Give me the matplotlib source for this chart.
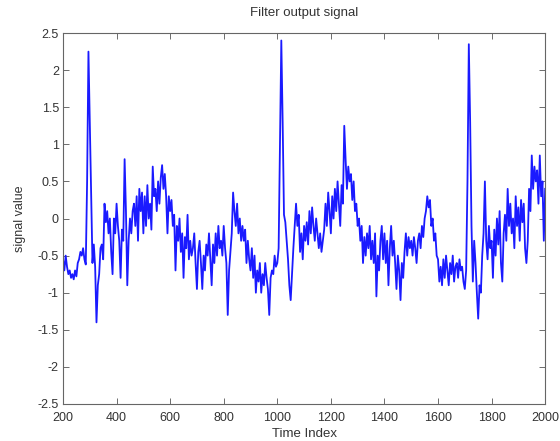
import numpy as np
import matplotlib
matplotlib.use("Agg")
from matplotlib import pyplot as plt
from matplotlib.ticker import FormatStrFormatter

# filter output, every 5 samples starting at index 200
signal = [
    # 200 - 395
    -0.55, -0.7, -0.5, -0.65, -0.75, -0.7, -0.8, -0.75, -0.82, -0.7,
    -0.78, -0.6, -0.55, -0.45, -0.5, -0.4, -0.55, -0.62, 0.5, 2.25,
    1.3, 0.4, -0.6, -0.35, -0.65, -1.4, -0.9, -0.75, -0.4, -0.35,
    -0.55, 0.2, -0.05, 0.1, -0.2, 0.0, -0.45, -0.75, 0.0, -0.2,
    # 400 - 595
    0.2, -0.1, -0.3, -0.8, -0.15, -0.3, 0.8, 0.1, -0.9, -0.3,
    0.0, -0.2, 0.1, 0.2, -0.1, 0.3, -0.3, 0.4, 0.1, 0.35,
    -0.2, 0.3, -0.1, 0.45, 0.0, 0.2, -0.15, 0.7, 0.3, 0.4,
    0.1, 0.5, 0.2, 0.55, 0.72, 0.4, 0.6, 0.3, -0.2, 0.3,
    # 600 - 795
    0.1, 0.25, -0.1, 0.05, -0.7, -0.1, -0.3, 0.0, -0.45, -0.2,
    -0.8, -0.25, -0.4, 0.05, -0.55, -0.3, -0.5, -0.4, -0.2, -0.6,
    -0.95, -0.45, -0.3, -0.6, -0.95, -0.5, -0.7, -0.35, -0.5, -0.2,
    -0.55, -0.9, -0.35, -0.6, -0.2, -0.5, -0.1, -0.4, -0.3, -0.5,
    # 800 - 995
    -0.1, -0.4, -0.6, -1.3, -0.7, -0.45, -0.2, 0.35, 0.1, -0.1,
    0.2, -0.2, 0.0, -0.3, -0.1, -0.3, -0.15, -0.6, -0.3, -0.55,
    -0.7, -0.4, -0.8, -0.5, -1.0, -0.7, -0.85, -0.6, -1.0, -0.75,
    -0.9, -0.6, -0.8, -0.95, -1.3, -0.8, -0.7, -0.75, -0.5, -0.65,
    # 1000 - 1195
    -0.6, -0.4, 1.0, 2.4, 1.3, 0.05, -0.05, -0.3, -0.55, -0.9,
    -1.1, -0.75, -0.4, -0.1, 0.2, -0.1, 0.05, -0.45, -0.2, -0.55,
    -0.1, -0.3, -0.05, -0.35, 0.1, -0.2, 0.15, -0.1, -0.3, 0.0,
    -0.2, -0.4, -0.2, -0.45, -0.3, -0.15, 0.2, -0.1, 0.35, 0.1,
    # 1200 - 1395
    -0.2, 0.3, 0.0, 0.4, 0.1, 0.5, 0.2, -0.1, 0.45, 0.2,
    1.25, 0.8, 0.4, 0.7, 0.5, 0.6, 0.25, 0.5, 0.1, 0.2,
    -0.1, 0.0, -0.3, -0.1, -0.6, -0.25, -0.5, -0.2, -0.4, -0.1,
    -0.55, -0.3, -0.6, -0.2, -1.05, -0.5, -0.7, -0.3, -0.1, -0.55,
    # 1400 - 1595
    -0.2, -0.6, -0.3, -0.9, -0.4, -0.1, -0.5, -0.3, -0.6, -0.95,
    -0.5, -0.7, -1.1, -0.6, -0.8, -0.45, -0.2, -0.5, -0.25, -0.4,
    -0.3, -0.5, -0.25, -0.4, -0.6, -0.3, -0.2, -0.4, -0.1, -0.25,
    0.0, 0.1, 0.3, 0.15, 0.25, -0.1, 0.0, -0.3, -0.2, -0.5,
    # 1600 - 1795
    -0.55, -0.85, -0.65, -0.9, -0.55, -0.8, -0.5, -0.7, -0.9, -0.6,
    -0.75, -0.5, -0.85, -0.65, -0.6, -0.8, -0.55, -0.7, -0.65, -0.85,
    -0.95, -0.7, 0.5, 2.35, 1.3, -0.1, -0.85, -0.3, -0.6, -1.0,
    -1.35, -0.9, -1.0, -0.5, -0.2, 0.5, -0.3, -0.55, -0.1, -0.4,
    # 1800 - 2000
    -0.3, -0.8, -0.15, -0.5, 0.0, -0.35, 0.1, -0.6, -0.85, -0.2,
    0.05, -0.3, 0.4, -0.1, 0.2, -0.2, 0.0, -0.4, 0.3, -0.1,
    0.15, -0.3, 0.25, -0.05, 0.2, -0.4, -0.6, -0.3, 0.4, 0.1,
    0.85, 0.4, 0.7, 0.5, 0.65, 0.2, 0.85, 0.3, 0.5, -0.3,
    0.4,
]
time_index = np.arange(200, 200 + 5 * len(signal), 5)

plt.rcParams['font.family'] = ['Liberation Sans', 'DejaVu Sans']
text_color = '#333333'

fig = plt.figure(figsize=(5.6, 4.41), dpi=100)
ax = fig.add_axes([0.1125, 0.084, 0.861, 0.841])
ax.plot(time_index, signal, color='#1a1aff', lw=1.3)

ax.set_xlim(200, 2000)
ax.set_ylim(-2.5, 2.5)
ax.set_xticks(np.arange(200, 2001, 200))
ax.set_yticks(np.arange(-2.5, 2.51, 0.5))
ax.yaxis.set_major_formatter(FormatStrFormatter('%g'))
ax.tick_params(direction='in', top=True, right=True, length=4, width=0.6,
               labelsize=9, colors='#555555', labelcolor=text_color)
ax.tick_params(axis='x', pad=6)
ax.tick_params(axis='y', pad=3)
for sp in ax.spines.values():
    sp.set_color('#666666')
    sp.set_linewidth(0.8)

ax.set_title('Filter output signal', fontsize=9.5, color=text_color, pad=12)
ax.set_xlabel('Time Index', fontsize=9.5, color=text_color, labelpad=3)
ax.set_ylabel('signal value', fontsize=9, color=text_color, labelpad=8)

fig.savefig('out.png', dpi=100)
